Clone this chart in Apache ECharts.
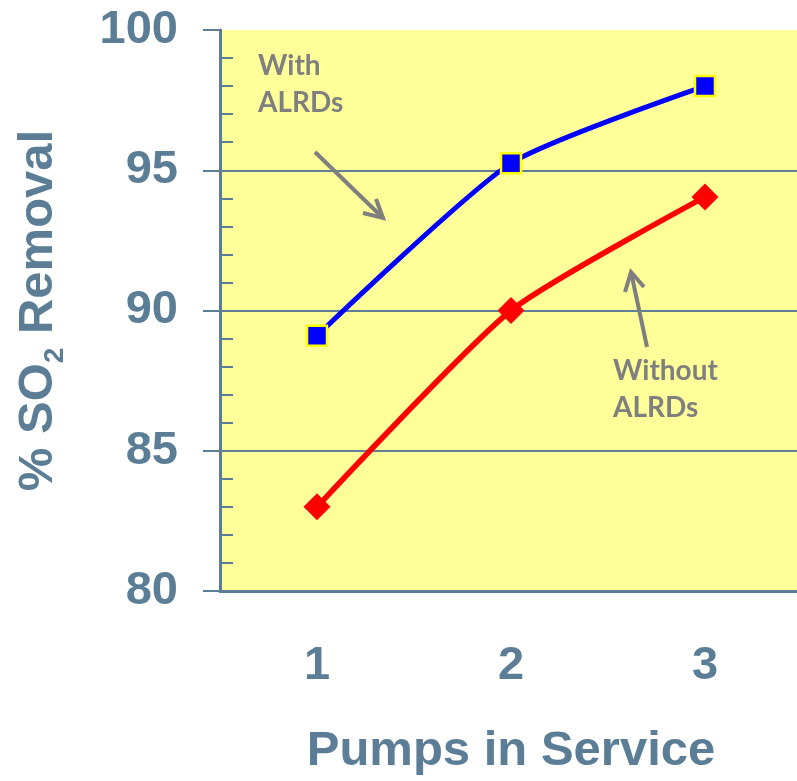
<!DOCTYPE html>
<html>
<head>
<meta charset="utf-8">
<script src="https://cdn.jsdelivr.net/npm/echarts@6/dist/echarts.min.js"></script>
<style>
html, body { margin: 0; padding: 0; background: #fff; }
#chart { width: 797px; height: 781px; }
</style>
</head>
<body>
<div id="chart"></div>
<script>
// values
const pumps = ['1', '2', '3'];
const withAlrds = [89.1, 95.25, 98.0];
const withoutAlrds = [83.0, 90.0, 94.05];
const yTicks = [80, 85, 90, 95, 100];

const axisColor = '#5b7e96';
const noteColor = '#7f7f7f';
const font = '"Liberation Sans", Arial, sans-serif';

const chart = echarts.init(document.getElementById('chart'));

const yBase = {
    type: 'value',
    min: yTicks[0],
    max: yTicks[yTicks.length - 1],
    interval: yTicks[1] - yTicks[0]
};

const option = {
    animation: false,
    textStyle: { fontFamily: font },
    grid: {
        left: 220,
        top: 30,
        width: 582,
        height: 561,
        outerBoundsMode: 'none',
        containLabel: false,
        show: true,
        backgroundColor: '#ffff99',
        borderWidth: 0
    },
    xAxis: {
        type: 'category',
        data: pumps,
        boundaryGap: true,
        name: 'Pumps in Service',
        nameLocation: 'middle',
        nameGap: 136,
        nameTextStyle: { fontSize: 49, fontWeight: 'bold', color: axisColor, fontFamily: font },
        axisLine: { lineStyle: { color: axisColor, width: 3 } },
        axisTick: { length: 17, lineStyle: { color: axisColor, width: 2 } },
        axisLabel: { fontSize: 47, fontWeight: 'bold', color: axisColor, margin: 52, fontFamily: font },
        splitLine: { show: false }
    },
    yAxis: [
        Object.assign({}, yBase, {
            name: '% SO{s|2} Removal',
            nameLocation: 'middle',
            nameGap: 151,
            nameTextStyle: {
                fontSize: 49, fontWeight: 'bold', color: axisColor, fontFamily: font,
                rich: {
                    s: { fontSize: 28, fontWeight: 'bold', color: axisColor, fontFamily: font, padding: [34, 0, 0, 0] }
                }
            },
            axisLine: { show: true, lineStyle: { color: axisColor, width: 3 } },
            axisTick: { show: true, length: 17, lineStyle: { color: axisColor, width: 2 } },
            axisLabel: { fontSize: 47, fontWeight: 'bold', color: axisColor, margin: 42, fontFamily: font },
            splitLine: {
                show: true,
                showMinLine: false,
                showMaxLine: false,
                lineStyle: { color: '#5f8094', width: 2 }
            }
        }),
        // second copy of the axis only for the inward minor ticks
        Object.assign({}, yBase, {
            position: 'left',
            axisLine: { show: false },
            axisTick: { show: false, inside: true },
            minorTick: { show: true, splitNumber: 5, length: 13, lineStyle: { color: axisColor, width: 2 } },
            axisLabel: { show: false },
            splitLine: { show: false }
        })
    ],
    series: [
        {
            name: 'With ALRDs',
            type: 'line',
            data: withAlrds,
            smooth: 0.2,
            symbol: 'rect',
            symbolSize: 20,
            lineStyle: { color: '#0000ff', width: 5 },
            itemStyle: { color: '#0000ff', borderColor: '#ffff00', borderWidth: 2.5 },
            z: 3
        },
        {
            name: 'Without ALRDs',
            type: 'line',
            data: withoutAlrds,
            smooth: 0.2,
            symbol: 'diamond',
            symbolSize: 27,
            lineStyle: { color: '#ff0000', width: 5.5 },
            itemStyle: { color: '#ff0000' },
            z: 3
        }
    ],
    graphic: [
        {
            type: 'text', left: 258, top: 47, z: 10,
            style: { text: 'With\nALRDs', fill: noteColor, font: 'bold 28px Lato, "Liberation Sans", sans-serif', lineHeight: 37 }
        },
        {
            type: 'text', left: 613, top: 352, z: 10,
            style: { text: 'Without\nALRDs', fill: noteColor, font: 'bold 28px Lato, "Liberation Sans", sans-serif', lineHeight: 37 }
        },
        {
            type: 'polyline', z: 10,
            shape: { points: [[315, 152], [383, 218]] },
            style: { stroke: noteColor, lineWidth: 4, fill: null }
        },
        {
            type: 'polyline', z: 10,
            shape: { points: [[363, 213], [383, 218], [376, 199]] },
            style: { stroke: noteColor, lineWidth: 4, fill: null, lineJoin: 'miter' }
        },
        {
            type: 'polyline', z: 10,
            shape: { points: [[647, 347], [631, 272]] },
            style: { stroke: noteColor, lineWidth: 4, fill: null }
        },
        {
            type: 'polyline', z: 10,
            shape: { points: [[625, 292], [631, 272], [644, 287]] },
            style: { stroke: noteColor, lineWidth: 4, fill: null, lineJoin: 'miter' }
        }
    ]
};

chart.setOption(option);
</script>
</body>
</html>
